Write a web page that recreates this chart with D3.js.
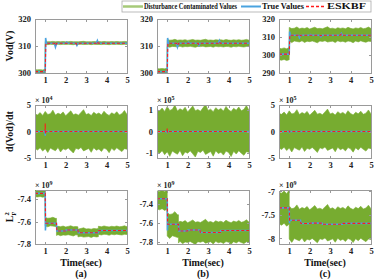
<!DOCTYPE html>
<html>
<head>
<meta charset="utf-8">
<script src="https://cdn.jsdelivr.net/npm/d3@7"></script>
<style>
  body { margin: 0; background: #fff; }
  svg { display: block; font-family: "Liberation Serif", "DejaVu Serif", serif; font-weight: bold; }
  .axis path, .axis line { stroke: #9a9a9a; shape-rendering: crispEdges; }
  .axis text { fill: #222; font-size: 8.5px; font-family: "Liberation Serif", serif; font-weight: bold; }
</style>
</head>
<body>
<svg id="chart" width="374" height="279"></svg>
<script>
'use strict';

// ---- data ----
let timeTicks = [1, 2, 3, 4, 5];
let panelLabels = ['(a)', '(b)', '(c)'];
let seriesNames = ['Disturbance Contaminated Values', 'True Values', 'ESKBF'];

// sampling grid for the noisy band edges (sec)
let bandTimes = [0.5, 0.625, 0.75, 0.875, 1.0, 1.125, 1.25, 1.375, 1.5, 1.625, 1.75, 1.875,
    2.0, 2.125, 2.25, 2.375, 2.5, 2.625, 2.75, 2.875, 3.0, 3.125, 3.25, 3.375, 3.5, 3.625,
    3.75, 3.875, 4.0, 4.125, 4.25, 4.375, 4.5, 4.625, 4.75, 4.875, 5.0];
let bandUpper = [1.00, 0.95, 1.08, 0.92, 1.15, 0.97, 1.02, 1.22, 0.94, 1.05, 0.98, 1.12, 0.90,
    1.04, 1.18, 0.96, 1.01, 0.93, 1.09, 1.25, 0.97, 1.03, 0.91, 1.10, 0.99, 1.06, 0.94, 1.16,
    1.00, 0.92, 1.07, 0.98, 1.13, 0.95, 1.02, 1.20, 0.97];
let bandLower = [0.97, 1.06, 0.93, 1.12, 0.98, 1.20, 0.95, 1.03, 1.10, 0.92, 1.17, 0.99, 1.05,
    0.94, 1.08, 1.23, 0.96, 1.02, 0.91, 1.11, 1.04, 0.97, 1.19, 0.93, 1.07, 1.00, 1.14, 0.95,
    1.02, 1.21, 0.96, 1.09, 0.93, 1.05, 1.15, 0.98, 1.01];

// row 1: Vod (V)
let trueVod = [[0.5, 300.5], [1.0, 300.5], [1.02, 313], [1.06, 311], [1.45, 311], [1.5, 309.6],
    [1.56, 311], [2.0, 311], [2.05, 311.4], [2.1, 311], [2.5, 311], [2.55, 310.2], [2.6, 311],
    [3.5, 311], [3.55, 312], [3.6, 311], [5, 311]];
let eskbfVod = [[0.5, 300.5], [1.0, 300.5], [1.03, 311], [1.45, 311], [1.5, 310.2], [1.56, 311],
    [2.5, 311], [2.55, 310.6], [2.6, 311], [3.5, 311], [3.55, 311.6], [3.6, 311], [5, 311]];
let noiseVod = [
    [[0.5, 1.0, 300.0, 301.2], [1.0, 5, 310.6, 311.6]],
    [[0.5, 1.0, 299.8, 301.6], [1.0, 5, 309.8, 312.2]],
    [[0.5, 1.0, 297.3, 303.7], [1.0, 5, 307.6, 314.8]]
];

// row 2: d(Vod)/dt
let trueDer = [[0.5, 0], [0.99, 0], [1.0, -8000], [1.01, 3000], [1.02, 0], [5, 0]];
let eskbfDer = [[0.5, 0], [0.99, 0], [1.0, 15000], [1.01, -5000], [1.02, 0], [5, 0]];
let noiseDer = [
    [[0.5, 5, -33000, 33000]],
    [[0.5, 5, -95000, 100000]],
    [[0.5, 5, -320000, 340000]]
];

// row 3: L_F^2 (x1e9)
let trueL = [[0.5, -7.35], [1.0, -7.35], [1.01, -7.68], [1.03, -7.615], [1.55, -7.615],
    [1.57, -7.685], [2.0, -7.685], [2.02, -7.675], [2.6, -7.675], [2.62, -7.70], [3.6, -7.70],
    [3.62, -7.68], [5, -7.68]];
let eskbfL = [[0.5, -7.35], [1.0, -7.35], [1.02, -7.615], [1.55, -7.615], [1.57, -7.685],
    [2.0, -7.685], [2.02, -7.675], [2.6, -7.675], [2.62, -7.70], [3.6, -7.70], [3.62, -7.68], [5, -7.68]];
let noiseL = [
    [[0.5, 1.0, -7.38, -7.32], [1.0, 1.55, -7.64, -7.57], [1.55, 2.6, -7.72, -7.645],
        [2.6, 3.6, -7.735, -7.665], [3.6, 5, -7.715, -7.645]],
    [[0.5, 1.0, -7.46, -7.27], [1.0, 1.55, -7.74, -7.51], [1.55, 5, -7.80, -7.59]],
    [[0.5, 1.0, -7.70, -7.02], [1.0, 5, -8.02, -7.36]]
];

let yDomains = [
    [[300, 320], [300, 320], [290, 320]],
    [[-5e4, 5e4], [-1.22e5, 1.22e5], [-5e5, 5e5]],
    [[-7.8, -7.32], [-7.82, -7.26], [-8.12, -6.97]]
];
let yTicks = [
    [[300, 310, 320], [300, 310, 320], [290, 300, 310, 320]],
    [[-5e4, 0, 5e4], [-1e5, 0, 1e5], [-5e5, 0, 5e5]],
    [[-7.8, -7.6, -7.4], [-7.8, -7.6, -7.4], [-8, -7.5, -7]]
];
let yExponent = [[null, null, null], [4, 5, 5], [0, 0, 0]];
let yLabels = ['Vod(V)', 'd(Vod)/dt', 'L'];

// ---- layout ----
let colLeft = [35, 157, 279];
let plotWidth = 92;
let rowTop = [19, 105, 190];
let rowHeight = [54, 53, 54];

let green = '#77ac30';
let blue = '#4aa3df';
let red = '#ff1a1a';

let svg = d3.select('#chart');

function bandPoints(segs) {
    let pts = [];
    segs.forEach(function (s) {
        let mid = (s[2] + s[3]) / 2, half = (s[3] - s[2]) / 2;
        let ts = [s[0]].concat(bandTimes.filter(function (t) { return t > s[0] && t < s[1]; }), [s[1]]);
        ts.forEach(function (t) {
            let i = d3.minIndex(bandTimes, function (b) { return Math.abs(b - t); });
            pts.push({t: t, lo: mid - half * bandLower[i], hi: mid + half * bandUpper[i]});
        });
    });
    return pts;
}

let rows = [
    {truth: trueVod, est: eskbfVod, noise: noiseVod},
    {truth: trueDer, est: eskbfDer, noise: noiseDer},
    {truth: trueL, est: eskbfL, noise: noiseL}
];

rows.forEach(function (row, r) {
    for (let c = 0; c < 3; c++) {
        let x0 = colLeft[c], y0 = rowTop[r], h = rowHeight[r];
        let x = d3.scaleLinear().domain([0.5, 5]).range([0, plotWidth]);
        let y = d3.scaleLinear().domain(yDomains[r][c]).range([h, 0]);
        let g = svg.append('g').attr('transform', 'translate(' + x0 + ',' + y0 + ')');

        let clipId = 'clip-' + r + '-' + c;
        g.append('clipPath').attr('id', clipId)
            .append('rect').attr('width', plotWidth).attr('height', h);

        let plot = g.append('g').attr('clip-path', 'url(#' + clipId + ')');

        plot.append('path')
            .datum(bandPoints(row.noise[c]))
            .attr('fill', green)
            .attr('stroke', green)
            .attr('stroke-width', 0.6)
            .attr('d', d3.area()
                .x(function (d) { return x(d.t); })
                .y0(function (d) { return y(d.lo); })
                .y1(function (d) { return y(d.hi); }));

        let line = d3.line()
            .x(function (d) { return x(d[0]); })
            .y(function (d) { return y(d[1]); });

        plot.append('path').datum(row.truth)
            .attr('fill', 'none').attr('stroke', blue).attr('stroke-width', 1.6)
            .attr('d', line);
        plot.append('path').datum(row.est)
            .attr('fill', 'none').attr('stroke', red).attr('stroke-width', 1.1)
            .attr('stroke-dasharray', '3,2')
            .attr('d', line);

        let exp = yExponent[r][c];
        let fmt = function (v) {
            if (exp === null) return d3.format('d')(v);
            if (exp === 0) return String(+v.toFixed(2));
            return String(Math.round(v / Math.pow(10, exp)));
        };

        g.append('g').attr('class', 'axis')
            .attr('transform', 'translate(0,' + h + ')')
            .call(d3.axisBottom(x).tickValues(timeTicks).tickSizeInner(-2.5).tickSizeOuter(0)
                .tickPadding(4).tickFormat(d3.format('d')));
        g.append('g').attr('class', 'axis')
            .call(d3.axisTop(x).tickValues(timeTicks).tickSizeInner(-2.5).tickSizeOuter(0).tickFormat(''));
        g.append('g').attr('class', 'axis')
            .call(d3.axisLeft(y).tickValues(yTicks[r][c]).tickSizeInner(-2.5).tickSizeOuter(0)
                .tickPadding(4).tickFormat(fmt));
        g.append('g').attr('class', 'axis')
            .attr('transform', 'translate(' + plotWidth + ',0)')
            .call(d3.axisRight(y).tickValues(yTicks[r][c]).tickSizeInner(-2.5).tickSizeOuter(0).tickFormat(''));

        if (exp !== null) {
            let t = g.append('text')
                .attr('x', 0).attr('y', -2.5)
                .attr('font-size', '8px').attr('fill', '#222');
            t.append('tspan').text('\u00d7 10');
            t.append('tspan').attr('font-size', '6px').attr('dy', -3).text(exp === 0 ? 9 : exp);
        }

        if (r === 2) {
            g.append('text')
                .attr('x', plotWidth / 2).attr('y', h + 22)
                .attr('text-anchor', 'middle').attr('font-size', '10px').attr('fill', '#111')
                .text('Time(sec)');
            g.append('text')
                .attr('x', plotWidth / 2).attr('y', h + 33)
                .attr('text-anchor', 'middle').attr('font-size', '10px').attr('fill', '#111')
                .text(panelLabels[c]);
        }
    }

    // row y label
    let yl = svg.append('text')
        .attr('transform', 'translate(13,' + (rowTop[r] + rowHeight[r] / 2) + ') rotate(-90)')
        .attr('text-anchor', 'middle')
        .attr('font-size', '10px').attr('fill', '#111');
    if (r === 2) {
        yl.append('tspan').text(yLabels[r]);
        yl.append('tspan').attr('font-size', '6.5px').attr('dy', -4).text('2');
        yl.append('tspan').attr('font-size', '6.5px').attr('dx', -3.5).attr('dy', 7).text('F');
    } else {
        yl.text(yLabels[r]);
    }
});

// ---- legend ----
let legend = svg.append('g').attr('transform', 'translate(122,1)');
legend.append('rect')
    .attr('width', 249).attr('height', 11)
    .attr('fill', '#fff').attr('stroke', '#aaa').attr('stroke-width', 0.8);

let legendItems = [
    {name: seriesNames[0], color: green, width: 2.5, dash: null, x: 1, len: 93, opacity: 0.65},
    {name: seriesNames[1], color: blue, width: 2, dash: null, x: 119, len: 42, opacity: 1},
    {name: seriesNames[2], color: red, width: 1.5, dash: '3,2', x: 184, len: 39, opacity: 1}
];
legendItems.forEach(function (d) {
    legend.append('line')
        .attr('x1', d.x).attr('x2', d.x + 20).attr('y1', 5.5).attr('y2', 5.5)
        .attr('stroke', d.color).attr('stroke-width', d.width)
        .attr('stroke-opacity', d.opacity)
        .attr('stroke-dasharray', d.dash);
    legend.append('text')
        .attr('x', d.x + 21).attr('y', 8.4)
        .attr('font-size', '7.5px').attr('fill', '#111')
        .attr('textLength', d.len).attr('lengthAdjust', 'spacingAndGlyphs')
        .text(d.name);
});
</script>
</body>
</html>
